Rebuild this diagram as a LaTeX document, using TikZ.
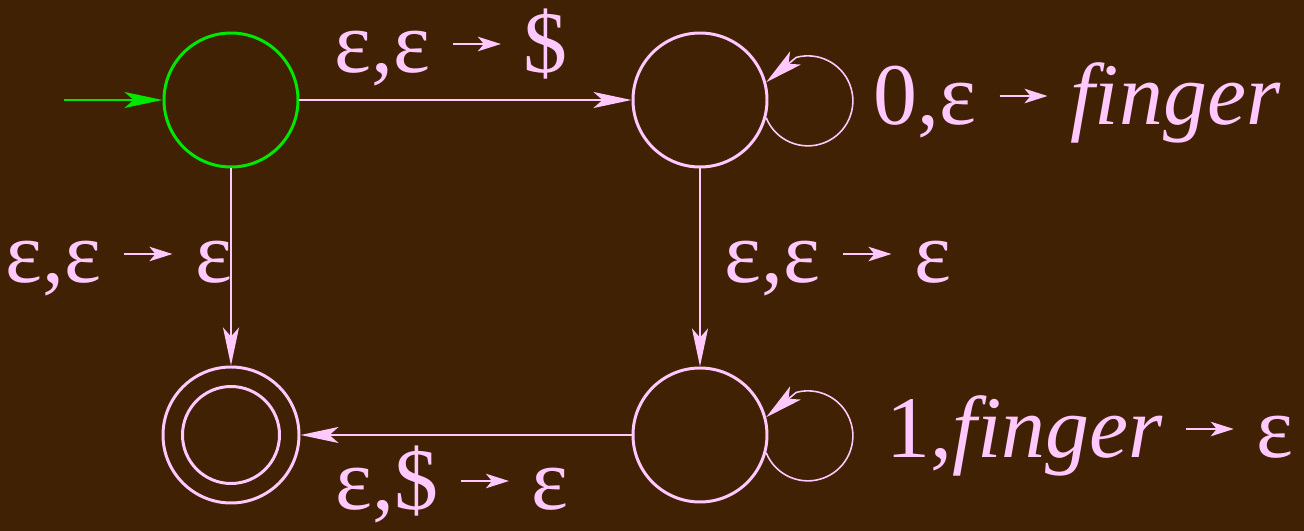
\documentclass[tikz,border=0pt]{standalone}
\usepackage{fontspec}
\newfontfamily\lblfont{Liberation Serif}
\usetikzlibrary{arrows.meta}
\definecolor{bgc}{RGB}{64,33,3}
\definecolor{pinkc}{RGB}{255,200,255}
\definecolor{greenc}{RGB}{0,232,0}
\newcommand{\tarrow}{\tikz[baseline=0pt]\draw[draw=pinkc,fill=pinkc,line width=0.6pt,-{Stealth[length=2.3mm,width=1.45mm,inset=0.6mm]}] (0,0.33em) -- (0.48cm,0.33em);}
\tikzset{
  state/.style={circle,draw=pinkc,line width=0.85pt,minimum size=1.34cm,inner sep=0pt},
  startstate/.style={state,draw=greenc},
  edge/.style={draw=pinkc,line width=0.6pt,-{Stealth[length=3.8mm,width=1.6mm,inset=0.9mm]}},
  loopedge/.style={draw=pinkc,line width=0.45pt,-{Stealth[length=3.8mm,width=1.7mm,inset=0.9mm]}},
  initedge/.style={draw=greenc,line width=0.6pt,-{Stealth[length=3.8mm,width=1.6mm,inset=0.9mm]}},
  lbl/.style={text=pinkc,inner sep=0pt,font=\lblfont\fontsize{25}{29}\selectfont}
}
\begin{document}
\begin{tikzpicture}
\useasboundingbox (0,0) rectangle (13.04,5.31);
\fill[bgc] (0,0) rectangle (13.04,5.31);
\node[startstate] (q0) at (2.31,4.31) {};
\node[state] (q1) at (7.00,4.31) {};
\node[state] (q2) at (7.00,0.96) {};
\node[state,minimum size=1.36cm] (q3) at (2.31,0.96) {};
\draw[pinkc,line width=0.85pt] (q3.center) circle (0.485cm);
\coordinate (init) at (0.64,4.31);
\draw[initedge] (init) -- (q0);
\draw[edge] (q0) -- (q1);
\draw[edge] (q0) -- (q3);
\draw[edge] (q1) -- (q2);
\draw[edge] (q2) -- (q3);
\draw[loopedge] (q1.-15) arc[start angle=-158,end angle=105,radius=0.45cm] -- (q1.15);
\draw[loopedge] (q2.-15) arc[start angle=-158,end angle=105,radius=0.45cm] -- (q2.15);
\node[lbl,anchor=base] (l01) at (4.51,4.58) {ε,ε \tarrow{} \$};
\node[lbl,anchor=base] (l03) at (1.19,2.48) {ε,ε \tarrow{} ε};
\node[lbl,anchor=base] (l12) at (8.38,2.48) {ε,ε \tarrow{} ε};
\node[lbl,anchor=base] (l23) at (4.52,0.21) {ε,\$ \tarrow{} ε};
\node[lbl,anchor=base west] (l11) at (8.73,4.06) {0,ε \tarrow{} \textit{finger}};
\node[lbl,anchor=base west] (l22) at (8.86,0.73) {1,\textit{finger} \tarrow{} ε};
\end{tikzpicture}
\end{document}
